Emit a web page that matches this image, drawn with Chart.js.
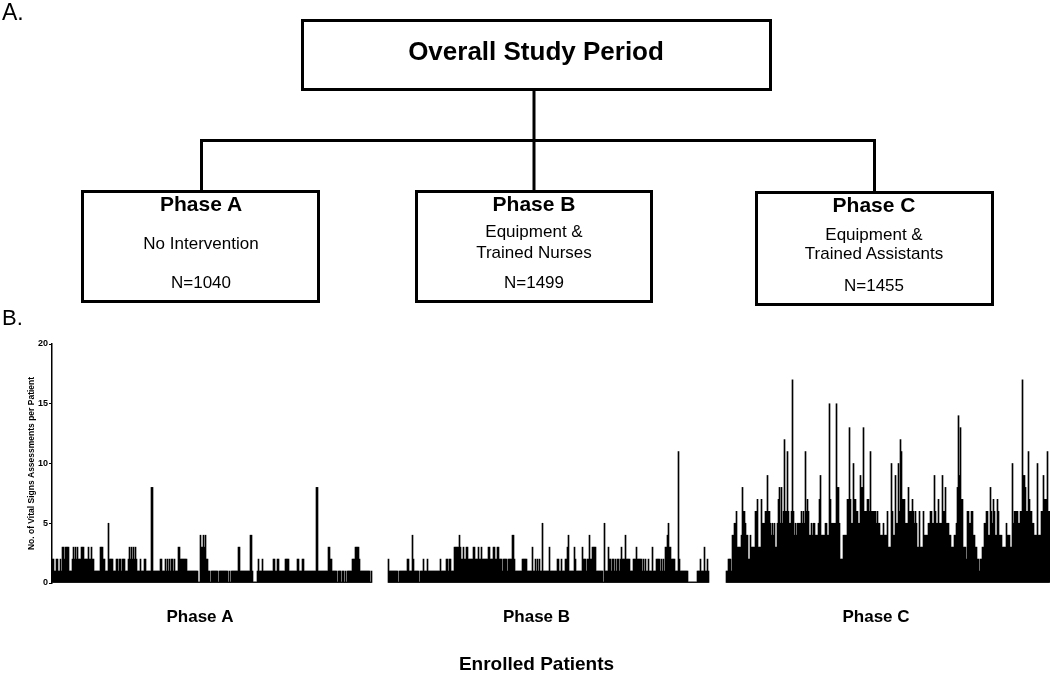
<!DOCTYPE html>
<html>
<head>
<meta charset="utf-8">
<script src="https://cdn.jsdelivr.net/npm/chart.js@4.4.0/dist/chart.umd.min.js"></script>
<style>
  html, body { margin: 0; padding: 0; background: #fff; }
  #wrap { position: relative; width: 1050px; height: 674px; overflow: hidden; }
  #chart { position: absolute; left: 0; top: 300px; }
  #flow { position: absolute; left: 0; top: 0; z-index: 2; pointer-events: none; }
  #flow text { font-family: "Liberation Sans", Arial, sans-serif; fill: #000; }
</style>
</head>
<body>
<div id="wrap">
  <canvas id="chart" width="1050" height="374"></canvas>
  <svg id="flow" width="1050" height="674">
    <text x="2" y="20" font-size="23">A.</text>
    <text x="2" y="325" font-size="22">B.</text>

    <!-- connectors -->
    <path d="M534 91 V191 M201.5 190 V140.5 H874.5 V191" fill="none" stroke="#000" stroke-width="3"/>

    <!-- boxes -->
    <rect x="302.5" y="20.5" width="468" height="69" fill="#fff" stroke="#000" stroke-width="3"/>
    <rect x="82.5" y="191.5" width="236" height="110" fill="#fff" stroke="#000" stroke-width="3"/>
    <rect x="416.5" y="191.5" width="235" height="110" fill="#fff" stroke="#000" stroke-width="3"/>
    <rect x="756.5" y="192.5" width="236" height="112" fill="#fff" stroke="#000" stroke-width="3"/>

    <text x="536" y="60" font-size="26" font-weight="bold" text-anchor="middle">Overall Study Period</text>

    <text x="201" y="211" font-size="21" font-weight="bold" text-anchor="middle">Phase A</text>
    <text x="201" y="249" font-size="17" text-anchor="middle">No Intervention</text>
    <text x="201" y="288" font-size="17" text-anchor="middle">N=1040</text>

    <text x="534" y="211" font-size="21" font-weight="bold" text-anchor="middle">Phase B</text>
    <text x="534" y="237" font-size="17" text-anchor="middle">Equipment &amp;</text>
    <text x="534" y="258" font-size="17" text-anchor="middle">Trained Nurses</text>
    <text x="534" y="288" font-size="17" text-anchor="middle">N=1499</text>

    <text x="874" y="212" font-size="21" font-weight="bold" text-anchor="middle">Phase C</text>
    <text x="874" y="240" font-size="17" text-anchor="middle">Equipment &amp;</text>
    <text x="874" y="259" font-size="17" text-anchor="middle">Trained Assistants</text>
    <text x="874" y="291" font-size="17" text-anchor="middle">N=1455</text>
  </svg>
</div>

<script>
// vital signs assessments per patient
// (one char per column, base 36 so 'a' = 10 ... 'h' = 17)
const PHASE_A = "221 1 22 11 2 1 33 2 3333 111 232323 222 333 2222 3 22 3 22 111111 333 22 111 5 2222 111 22 1 22 1 222 111 " +
  "232323232 111 2 111 22 11111 88 1111111 22 111 2121212212 111 33 2222222 1 1111111111 00 43343422 11 0 1111111 0 " +
  "111111111 0 1 0 1111111 33 1111111111 44 1 0000 1 2 111 2 111111111 1 22 11 22 111111 2222 11111111 22 111 22 " +
  "111111111111 88 1111111111 33 22 11111 0 111 0 11 0 1 0 11111 222 3333 2 11111111 1101";

const PHASE_B = "2 111111111 0 11111111 22 111 4 2 11111 0 111 2 111 2 111111111111 2 11111 22122 111 33333 4 3 22322 33 " +
  "22222 33 222 3 22 3 222222 33 222 33 22 33 2221222212222 44 2 1111111 22222 11111 3 11 21212 11 5 111111 3 1 " +
  "111111 22 11 2 111 22341 1111 32 111111 3 22212 2 42 2 3333 1111111 0 51 11 32 21221212212 32 22 42 222 111 222 " +
  "32 2222 1212112111 31 11 222 212 121 33 4 53 3 2222 111 b2 11111111 000000000 111 21 11 31 1 21";

const PHASE_C = "11 222 1 44 55 6 3333 4 86 65 44 22 4 3333 66 7 333 75 55 66 9 66 54545 33 57 85 85 6c 66 b6 55 6 h6 4545 " +
  "555 6 565 b 676 44545 5 444 579 4444 55 44 f7 55555 f8 85 222 4444 77 d7 55 a7 76 6 55 988 d6 66 77 6 b6 666 " +
  "6565 5 444 5 444 63 33 a6 44 95 5 a6 cb 77 75 55 86 66 7 6565 33 6 333 64 444 55 66 55 96 55 75 55 96 6 85 55 " +
  "44 333 44 5 8 e9d7 7 333 2665566 44 33 22 1 22 33 55 66 44 86 5 76 44 76 444 3333 5 444 33 a5 6666 55 66 h9 98 " +
  "66 b7 66 55 44 4a 444 66 97 77 b6 6";

const PHASE_NAMES = ['Phase A', 'Phase B', 'Phase C'];
const X_TITLE = 'Enrolled Patients';
const Y_TITLE = 'No. of Vital Signs Assessments per Patient';
const Y_TICKS = [0, 5, 10, 15, 20];

// layout of the bar strip: one category per pixel column
const TOTAL_COLS = 998;
const PHASE_START = [0, 336, 674];

function decodificar(str) {
  return str.replace(/\s+/g, '').split('').map(c => parseInt(c, 36));
}

const phases = [PHASE_A, PHASE_B, PHASE_C].map(decodificar);

const labels = [];
const valores = [];
for (let i = 0; i < TOTAL_COLS; i++) {
  labels.push(i);
  valores.push(null);
}
phases.forEach((serie, p) => {
  serie.forEach((v, i) => {
    const idx = PHASE_START[p] + i;
    if (idx < TOTAL_COLS) valores[idx] = v;
  });
});

const FONT = '"Liberation Sans", Arial, sans-serif';

// category labels under each phase and the x title
const phaseLabels = {
  id: 'phaseLabels',
  afterDraw(chart) {
    const { ctx } = chart;
    const xs = chart.scales.x;
    ctx.save();
    ctx.fillStyle = '#000';
    ctx.textAlign = 'center';
    ctx.textBaseline = 'middle';
    ctx.font = 'bold 17px ' + FONT;
    const centros = [];
    phases.forEach((serie, p) => {
      const a = xs.getPixelForValue(PHASE_START[p]);
      const b = xs.getPixelForValue(Math.min(PHASE_START[p] + serie.length - 1, TOTAL_COLS - 1));
      const cx = (a + b) / 2 - 12;
      centros.push(cx);
      ctx.fillText(PHASE_NAMES[p], cx, 317);
    });
    ctx.font = 'bold 19px ' + FONT;
    ctx.fillText(X_TITLE, centros[1], 365);
    ctx.restore();
  }
};

new Chart(document.getElementById('chart'), {
  type: 'bar',
  data: {
    labels: labels,
    datasets: [{
      data: valores,
      backgroundColor: '#000',
      borderWidth: 0,
      barPercentage: 1,
      categoryPercentage: 1,
      minBarLength: 1
    }]
  },
  options: {
    responsive: false,
    animation: false,
    events: [],
    layout: { padding: { left: 23, right: 0, top: 44, bottom: 91 } },
    plugins: {
      legend: { display: false },
      tooltip: { enabled: false }
    },
    scales: {
      x: { display: false },
      y: {
        min: 0,
        max: 20,
        afterFit: s => { s.width = 29; },
        afterBuildTicks: s => { s.ticks = Y_TICKS.map(v => ({ value: v })); },
        ticks: {
          color: '#000',
          padding: 1,
          font: { family: FONT, size: 9, weight: 'bold' }
        },
        grid: { drawOnChartArea: false, drawTicks: true, tickLength: 3, color: '#000' },
        border: { color: '#000', width: 1.5 },
        title: {
          display: true,
          text: Y_TITLE,
          color: '#000',
          padding: { top: 4, bottom: 0 },
          font: { family: FONT, size: 8.5, weight: 'bold' }
        }
      }
    }
  },
  plugins: [phaseLabels]
});
</script>
</body>
</html>
